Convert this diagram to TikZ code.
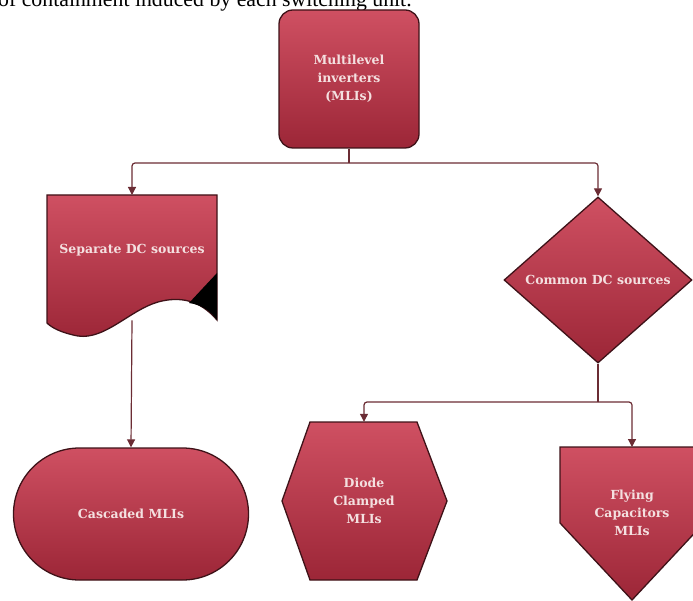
\documentclass[tikz,border=0pt]{standalone}
\usepackage{fontspec}
\setmainfont{Liberation Serif}
\newfontfamily\mlifont{DejaVu Serif}
\usepackage{tikz}
\usetikzlibrary{positioning, arrows.meta, shapes.geometric, shapes.misc}

\definecolor{mliTop}{HTML}{CF5062}
\definecolor{mliBottom}{HTML}{9C2637}
\definecolor{mliEdge}{HTML}{3E1218}
\definecolor{mliLine}{HTML}{6B2C34}
\definecolor{mliText}{HTML}{F4E0E0}

\tikzset{
  mlifill/.style={draw=mliEdge, line width=1.3pt, top color=mliTop, bottom color=mliBottom},
  mlitext/.style={text=mliText, font=\mlifont\bfseries\fontsize{12.5}{18}\selectfont, align=center, inner sep=0pt},
  link/.style={draw=mliLine, line width=1.2pt, rounded corners=3pt},
  tip/.style={-{Triangle[length=8pt,width=8pt]}}
}

\begin{document}
\begin{tikzpicture}[x=1pt, y=-1pt]
\useasboundingbox (0,0) rectangle (693,601);
% cut line of the running text above
\node[anchor=base west, inner sep=0pt, font=\fontsize{21.8}{26}\selectfont] (runtext) at (-2,7) {of containment induced by each switching unit.};

% root
\node[mlifill, mlitext, rounded corners=14pt, minimum width=140pt, minimum height=138pt] (mli) at (349,79) {Multilevel\\inverters\\(MLIs)};

% separate sources: document shape
\draw[mlifill] (47,195) -- (217,195) -- (217,320)
  .. controls (200,300) and (180,296) .. (158,302)
  .. controls (130,310) and (105,340) .. (78,336)
  .. controls (62,333) and (52,328) .. (47,323) -- cycle;
\fill[black] (217,273) -- (189,303) .. controls (203,305) and (211,312) .. (217,320) -- cycle;
\node[mlitext, anchor=north, minimum width=170pt, minimum height=125pt, text height=10pt, text depth=19pt] (sep) at (132,195) {Separate DC sources};

% common sources
\node[mlifill, mlitext, diamond, aspect=1.15, minimum width=188pt, minimum height=166pt] (common) at (598,280) {Common DC sources};

% leaves
\node[mlifill, mlitext, rounded rectangle, minimum width=235pt, minimum height=132pt] (casc) at (131,514) {Cascaded MLIs};
\draw[mlifill] (310,422) -- (417,422) -- (447,501) -- (417,580) -- (310,580) -- (282,501) -- cycle;
\node[mlitext, minimum width=165pt, minimum height=158pt] (diode) at (364,501) {Diode\\Clamped\\MLIs};
\draw[mlifill] (560,447) -- (704,447) -- (704,523) -- (632,600) -- (560,523) -- cycle;
\node[mlitext, anchor=north, minimum height=132pt] (fly) at (632,447) {Flying\\Capacitors\\MLIs};

% connectors
\coordinate (split1) at (349,163);
\coordinate (split2) at (598,402);
\draw[link] (mli.south) -- (split1);
\draw[link, tip] (split1) -| (sep.north);
\draw[link, tip] (split1) -| (common.north);
\draw[link, tip] (sep.south) -- (casc.north);
\draw[link] (common.south) -- (split2);
\draw[link, tip] (split2) -| (diode.north);
\draw[link, tip] (split2) -| (fly.north);
\end{tikzpicture}
\end{document}
